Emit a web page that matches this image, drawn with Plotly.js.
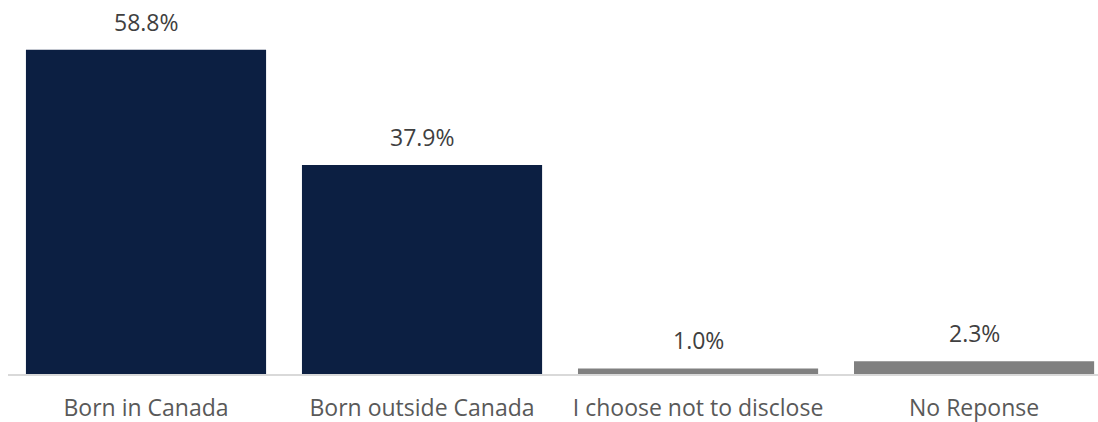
<!DOCTYPE html>
<html>
<head>
<meta charset="utf-8">
<script src="https://cdn.plot.ly/plotly-3.0.1.min.js"></script>
<style>html,body{margin:0;padding:0;background:#fff;}#chart{width:1098px;height:422px;}</style>
</head>
<body>
<div id="chart"></div>
<script>
const categories = ["Born in Canada", "Born outside Canada", "I choose not to disclose", "No Reponse"];
const values = [58.8, 37.9, 1.0, 2.3];
const labels = ["58.8%", "37.9%", "1.0%", "2.3%"];
const colors = ["#0C1F42", "#0C1F42", "#808080", "#808080"];

const trace = {
  type: "bar",
  x: categories,
  y: values,
  marker: {color: colors},
  width: 0.87,
  hoverinfo: "none"
};
const annotations = categories.map((c, i) => ({
  x: c, y: values[i], text: labels[i], showarrow: false,
  xanchor: "center", yanchor: "bottom", yshift: 10,
  font: {family: "Open Sans, sans-serif", size: 23, color: "#404040"}
}));
const layout = {
  width: 1098, height: 422,
  margin: {l: 8, r: 0, t: 0, b: 48},
  paper_bgcolor: "#fff", plot_bgcolor: "#fff",
  showlegend: false,
  xaxis: {
    type: "category", range: [-0.5, 3.449],
    showline: true, linecolor: "#D9D9D9", linewidth: 1.5,
    ticks: "outside", ticklen: 13, tickcolor: "rgba(0,0,0,0)",
    tickfont: {family: "Open Sans, sans-serif", size: 23, color: "#595959"},
    showgrid: false, zeroline: false, fixedrange: true, automargin: false
  },
  yaxis: {
    range: [0, 67.8], visible: false, showgrid: false, zeroline: false, fixedrange: true
  },
  annotations: annotations
};
Plotly.newPlot("chart", [trace], layout, {displayModeBar: false, staticPlot: true});
</script>
</body>
</html>
